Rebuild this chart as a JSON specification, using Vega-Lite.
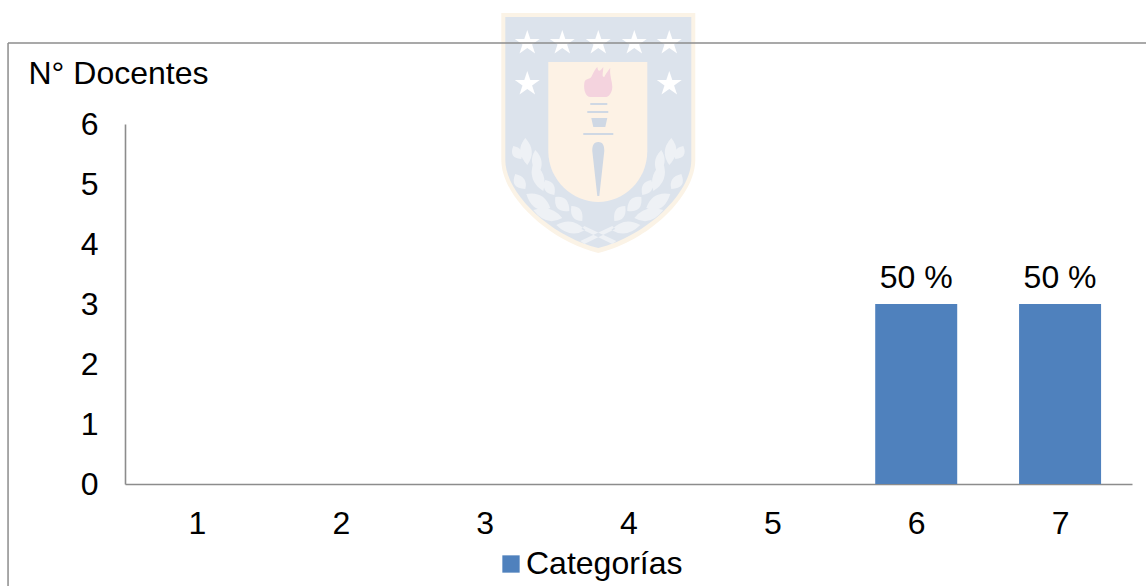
{"$schema":"https://vega.github.io/schema/vega-lite/v6.json","width":1007,"height":360,"autosize":{"type":"none"},"padding":{"left":125,"top":124,"right":14,"bottom":102},"background":"#ffffff","config":{"view":{"stroke":null},"font":"Liberation Sans"},"layer":[
{"data":{"values":[{"x":3.79,"y":5.883}]},"mark":{"type":"point","filled":true,"opacity":1,"size":4,"fill":"#FBF3E6","shape":"M-97-118H97V29C97 65 50 110 0 122C-50 110-97 65-97 29Z"},"encoding":{"x":{"field":"x","type":"quantitative","scale":{"domain":[0.5,7.5],"nice":false,"padding":0},"axis":{"values":[1,2,3,4,5,6,7],"format":"d","title":null,"grid":false,"ticks":false,"labelFontSize":32,"labelColor":"#000000","labelPadding":24,"labelFlush":false,"domainColor":"#8c8c8c","domainWidth":1.6}},"y":{"field":"y","type":"quantitative","scale":{"domain":[0,6],"nice":false,"padding":0},"axis":{"values":[0,1,2,3,4,5,6],"format":"d","title":"N° Docentes","titleFontSize":32,"titleFontWeight":"normal","titleColor":"#000000","titleAngle":0,"titleAlign":"left","titleBaseline":"alphabetic","titleX":-97,"titleY":-41,"grid":false,"ticks":false,"labelFontSize":32,"labelColor":"#000000","labelPadding":27,"labelFlush":false,"domainColor":"#8c8c8c","domainWidth":1.6}}}},
{"data":{"values":[{"x":3.79,"y":5.883}]},"mark":{"type":"point","filled":true,"opacity":1,"size":4,"fill":"#DCE3EC","shape":"M-93-114H93V29C93 62 48 105 0 117C-48 105-93 62-93 29Z"},"encoding":{"x":{"field":"x","type":"quantitative"},"y":{"field":"y","type":"quantitative"}}},
{"data":{"values":[{"x":3.79,"y":5.883}]},"mark":{"type":"point","filled":true,"opacity":1,"size":4,"fill":"#FDF2E5","shape":"M-50-69H49V20C49 50 25 71 0 71C-25 71-50 50-50 20Z"},"encoding":{"x":{"field":"x","type":"quantitative"},"y":{"field":"y","type":"quantitative"}}},
{"data":{"values":[{"x":3.79,"y":5.883}]},"mark":{"type":"point","filled":true,"opacity":1,"size":4,"fill":"#FFFFFF","shape":"M-71-101l3 9l9.5 0l-7.7 5.6l3 9l-7.8-5.6l-7.8 5.6l3-9l-7.7-5.6l9.5 0zM-36-101l3 9l9.5 0l-7.7 5.6l3 9l-7.8-5.6l-7.8 5.6l3-9l-7.7-5.6l9.5 0zM0-101l3 9l9.5 0l-7.7 5.6l3 9l-7.8-5.6l-7.8 5.6l3-9l-7.7-5.6l9.5 0zM36-101l3 9l9.5 0l-7.7 5.6l3 9l-7.8-5.6l-7.8 5.6l3-9l-7.7-5.6l9.5 0zM71-101l3 9l9.5 0l-7.7 5.6l3 9l-7.8-5.6l-7.8 5.6l3-9l-7.7-5.6l9.5 0zM-71-60l3 9l9.5 0l-7.7 5.6l3 9l-7.8-5.6l-7.8 5.6l3-9l-7.7-5.6l9.5 0zM71-60l3 9l9.5 0l-7.7 5.6l3 9l-7.8-5.6l-7.8 5.6l3-9l-7.7-5.6l9.5 0z"},"encoding":{"x":{"field":"x","type":"quantitative"},"y":{"field":"y","type":"quantitative"}}},
{"data":{"values":[{"x":3.79,"y":5.883}]},"mark":{"type":"point","filled":true,"opacity":1,"size":4,"fill":"#EEF1F5","shape":"M-71 34Q-84 20-73 7Q-61 20-71 34ZM-60 44Q-71 31-63 19Q-52 30-60 44ZM-77 28Q-90 27-85 15Q-74 17-77 28ZM-73 58Q-89 57-83 43Q-70 46-73 58ZM-55 60Q-71 50-65 32Q-50 42-55 60ZM-44 64Q-58 62-53 49Q-41 51-44 64ZM-48 77Q-65 84-72 63Q-54 60-48 77ZM-29 80Q-45 82-43 66Q-29 64-29 80ZM-36 87Q-52 96-65 79Q-47 73-36 87ZM-16 90Q-29 90-27 75Q-14 75-16 90ZM-13 99Q-28 108-42 94Q-26 85-13 99ZM71 34Q84 20 73 7Q61 20 71 34ZM60 44Q71 31 63 19Q52 30 60 44ZM77 28Q90 27 85 15Q74 17 77 28ZM73 58Q89 57 83 43Q70 46 73 58ZM55 60Q71 50 65 32Q50 42 55 60ZM44 64Q58 62 53 49Q41 51 44 64ZM48 77Q65 84 72 63Q54 60 48 77ZM29 80Q45 82 43 66Q29 64 29 80ZM36 87Q52 96 65 79Q47 73 36 87ZM16 90Q29 90 27 75Q14 75 16 90ZM13 99Q28 108 42 94Q26 85 13 99ZM-18 110L14 95L17 98L-14 113ZM18 110L-14 95L-17 98L14 113Z"},"encoding":{"x":{"field":"x","type":"quantitative"},"y":{"field":"y","type":"quantitative"}}},
{"data":{"values":[{"x":3.79,"y":5.883}]},"mark":{"type":"point","filled":true,"opacity":1,"size":4,"fill":"#F4D3DE","shape":"M-14-48C-13-54-8-50-6-56C-4-60-3-62-1-64C0-58 2-60 5-64C5-58 3-54 6-54C8-58 11-62 12-63C11-56 14-50 14-44C14-38 10-34 8-34H-8C-12-34-15-40-14-48Z"},"encoding":{"x":{"field":"x","type":"quantitative"},"y":{"field":"y","type":"quantitative"}}},
{"data":{"values":[{"x":3.79,"y":5.883}]},"mark":{"type":"point","filled":true,"opacity":1,"size":4,"fill":"#CFD8E4","shape":"M-8-28H9V-26H-8ZM-11-20H10V-18H-11ZM-7-13H9L7-4H-5ZM-15 2H15V4H-15ZM0 11C5 11 6 15 6 20L1 65H-1L-6 20C-6 15-5 11 0 11Z"},"encoding":{"x":{"field":"x","type":"quantitative"},"y":{"field":"y","type":"quantitative"}}},
{"data":{"values":[{"x0":-0.313,"x1":7.6,"y0":7.35}]},"mark":{"type":"rule","color":"#8c8c8c","strokeWidth":1.5},"encoding":{"x":{"field":"x0","type":"quantitative"},"x2":{"field":"x1"},"y":{"field":"y0","type":"quantitative"}}},
{"data":{"values":[{"x0":-0.313,"y0":7.35,"y1":-1.7}]},"mark":{"type":"rule","color":"#8c8c8c","strokeWidth":1.5},"encoding":{"x":{"field":"x0","type":"quantitative"},"y":{"field":"y0","type":"quantitative"},"y2":{"field":"y1"}}},
{"data":{"values":[{"categoria":1,"docentes":0,"serie":"Categorías"},{"categoria":2,"docentes":0,"serie":"Categorías"},{"categoria":3,"docentes":0,"serie":"Categorías"},{"categoria":4,"docentes":0,"serie":"Categorías"},{"categoria":5,"docentes":0,"serie":"Categorías"},{"categoria":6,"docentes":3,"serie":"Categorías"},{"categoria":7,"docentes":3,"serie":"Categorías"}]},"mark":{"type":"bar","size":82},"encoding":{"x":{"field":"categoria","type":"quantitative"},"y":{"field":"docentes","type":"quantitative"},"color":{"field":"serie","type":"nominal","scale":{"domain":["Categorías"],"range":["#4F81BD"]},"legend":{"title":null,"orient":"none","legendX":370,"legendY":424,"symbolType":"square","symbolSize":300,"symbolOpacity":1,"labelFontSize":32,"labelColor":"#000000","labelOffset":-1}}}},
{"data":{"values":[{"categoria":6,"docentes":3,"etiqueta":"50 %"},{"categoria":7,"docentes":3,"etiqueta":"50 %"}]},"mark":{"type":"text","fontSize":32,"color":"#000000","baseline":"bottom","dy":-9},"encoding":{"x":{"field":"categoria","type":"quantitative"},"y":{"field":"docentes","type":"quantitative"},"text":{"field":"etiqueta","type":"nominal"}}}
]}
